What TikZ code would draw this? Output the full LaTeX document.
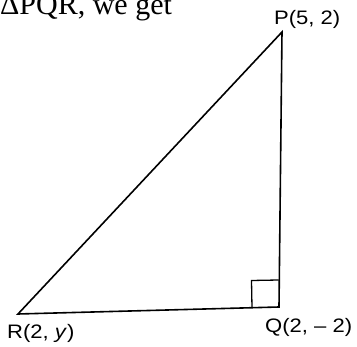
\documentclass[tikz,border=0pt]{standalone}
\usepackage{fontspec}
\usepackage{graphicx}
\usetikzlibrary{calc}
\setmainfont{Liberation Serif}
\newfontfamily\labfont{Liberation Sans}
\newcommand{\wide}[1]{\scalebox{1.13}[1]{#1}}
\tikzset{
  edge/.style={line width=1.6pt, line join=miter},
  lab/.style={font=\labfont\fontsize{19.5}{22}\selectfont, inner sep=0pt},
}
\begin{document}
\begin{tikzpicture}[x=1pt,y=-1pt]
\useasboundingbox (0,0) rectangle (357,347);
\clip (0,0) rectangle (357,347);
\coordinate (P) at (282,32);
\coordinate (Q) at (279,307);
\coordinate (R) at (18,314);
\draw[edge] (R) -- (P) -- (Q) -- cycle;
\draw[line width=1.3pt] ($(Q)+(-27,0.7)$) -- ($(Q)+(-27.5,-26.5)$) -- ($(Q)+(-0.3,-27)$);
\node[lab, anchor=base west] (pl) at (274,25) {\wide{P(5, 2)}};
\node[lab, anchor=base west] (ql) at (265,333) {\wide{Q(2, – 2)}};
\node[lab, anchor=base west] (rl) at (7,339) {\wide{R(2, \textit{y})}};
\node[anchor=base west, inner sep=0pt, font=\fontsize{30}{34}\selectfont] (t) at (0,15) {ΔPQR, we get};
\end{tikzpicture}
\end{document}
